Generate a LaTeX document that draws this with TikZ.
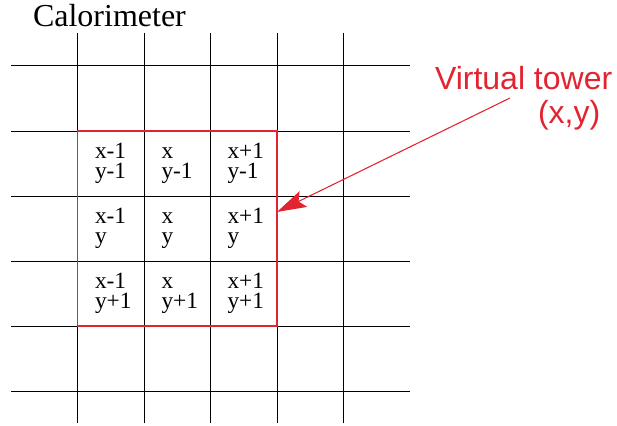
\documentclass[tikz,border=0pt]{standalone}
\usepackage{fontspec}
\setmainfont{Liberation Serif}
\newfontfamily\labelfont{Liberation Sans}
\usetikzlibrary{arrows.meta}
\definecolor{towerred}{RGB}{226,35,48}

\begin{document}
\begin{tikzpicture}[x=0.75pt,y=-0.75pt,
    every node/.style={inner sep=0pt, outer sep=0pt},
    gridline/.style={black, line width=0.75pt},
    cell/.style={anchor=north west, align=left, font=\fontsize{17.5}{15}\selectfont},
    tag/.style={anchor=base west, text=towerred, font=\labelfont\fontsize{24}{28}\selectfont}]
  \useasboundingbox (0,0) rectangle (617,425);

  \node[anchor=base west, font=\fontsize{24}{28}\selectfont] (title) at (33,26) {Calorimeter};

  % calorimeter grid
  \foreach \gx in {77.5,144,210,277,343}
    \draw[gridline] (\gx,33) -- (\gx,423);
  \foreach \gy in {65.5,131,196,261,326,391}
    \draw[gridline] (11,\gy) -- (410,\gy);

  % the nine towers
  \foreach \xl/\cx [count=\i] in {x-1/77.5, x/144, x+1/210}
    \foreach \yl/\cy [count=\j] in {y-1/131, y/196, y+1/261}
      \node[cell] (c\i\j) at (\cx+17.5,\cy+12) {\vphantom{1}\xl\\\yl};

  \node[draw=towerred, line width=1.4pt, anchor=north west,
    minimum width=149.6pt, minimum height=146.25pt] (vtower) at (77.5,131) {};

  \node[tag] (vlabel) at (435,89) {Virtual tower};
  \node[tag] (vcoord) at (538,123) {(x,y)};
  \coordinate (vstart) at (510,98);
  \draw[towerred, line width=0.8pt, -{Stealth[length=22pt,width=13pt,inset=4pt]}]
    (vstart) -- ([yshift=12.4pt]vtower.east);
\end{tikzpicture}
\end{document}
